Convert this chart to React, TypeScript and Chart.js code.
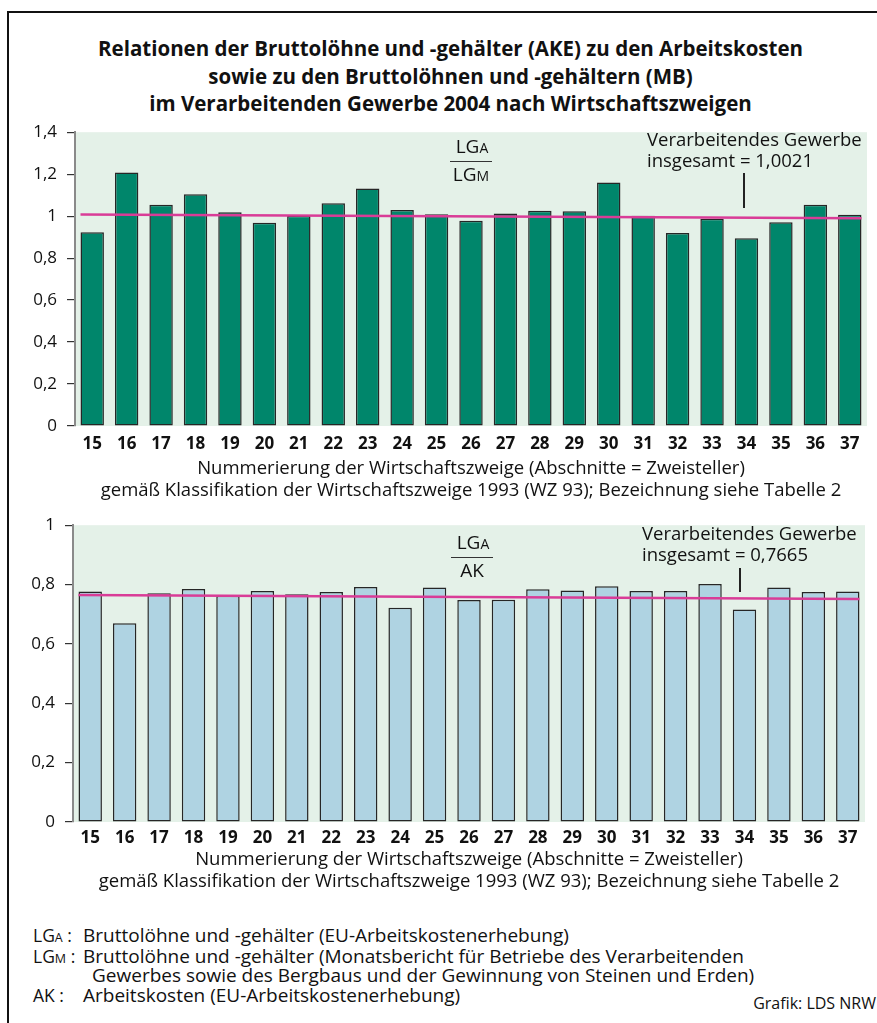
import React, { useEffect, useRef } from 'react';
import { Chart, registerables } from 'chart.js';

Chart.register(...registerables);

const categories = ['15', '16', '17', '18', '19', '20', '21', '22', '23', '24', '25', '26', '27', '28', '29', '30', '31', '32', '33', '34', '35', '36', '37'];
const ratioLgaLgm = [0.923, 1.208, 1.054, 1.104, 1.018, 0.968, 1.002, 1.062, 1.132, 1.029, 1.009, 0.978, 1.013, 1.026, 1.023, 1.16, 1.002, 0.92, 0.987, 0.895, 0.971, 1.054, 1.007];
const ratioLgaAk = [0.777, 0.67, 0.771, 0.785, 0.762, 0.778, 0.767, 0.775, 0.792, 0.722, 0.79, 0.748, 0.749, 0.784, 0.78, 0.794, 0.778, 0.778, 0.802, 0.716, 0.79, 0.775, 0.777];
const avgLineTop = [1.008, 0.99];
const avgLineBottom = [0.765, 0.751];
const totalTop = '1,0021';
const totalBottom = '0,7665';
const xTitle = [
  'Nummerierung der Wirtschaftszweige (Abschnitte = Zweisteller)',
  'gemäß Klassifikation der Wirtschaftszweige 1993 (WZ 93); Bezeichnung siehe Tabelle 2',
];
const titleLines = [
  'Relationen der Bruttolöhne und -gehälter (AKE) zu den Arbeitskosten',
  'sowie zu den Bruttolöhnen und -gehältern (MB)',
  'im Verarbeitenden Gewerbe 2004 nach Wirtschaftszweigen',
];

const FONT = "'Open Sans', 'Noto Sans', sans-serif";

const bgPlugin = {
  id: 'plotBg',
  beforeDraw(chart: any) {
    const { ctx, chartArea: a } = chart;
    ctx.save();
    ctx.fillStyle = '#e4f1e8';
    ctx.fillRect(a.left, a.top, a.right - a.left, a.bottom - a.top);
    ctx.restore();
  },
};

const avgPlugin = {
  id: 'avgLine',
  afterDatasetsDraw(chart: any, _args: any, opts: any) {
    const vals = opts.values;
    if (!vals) return;
    const meta = chart.getDatasetMeta(0);
    const first: any = meta.data[0];
    const last: any = meta.data[meta.data.length - 1];
    const y = chart.scales.y;
    const ctx = chart.ctx;
    ctx.save();
    ctx.strokeStyle = '#d93c97';
    ctx.lineWidth = 2.5;
    ctx.beginPath();
    ctx.moveTo(first.x - first.width / 2, y.getPixelForValue(vals[0]));
    ctx.lineTo(last.x + last.width / 2, y.getPixelForValue(vals[1]));
    ctx.stroke();
    ctx.restore();
  },
};

type BoxProps = {
  top: number;
  height: number;
  values: number[];
  color: string;
  yMax: number;
  avg: number[];
  padTop: number;
  padRight: number;
  yWidth: number;
  xHeight: number;
  tickPad: number;
};

function BarChart(p: BoxProps) {
  const ref = useRef<HTMLCanvasElement | null>(null);
  useEffect(() => {
    if (!ref.current) return;
    const chart = new Chart(ref.current, {
      type: 'bar',
      data: {
        labels: categories,
        datasets: [
          {
            data: p.values,
            backgroundColor: p.color,
            borderColor: '#262626',
            borderWidth: 1.5,
            borderSkipped: false,
            barPercentage: 0.68,
            categoryPercentage: 1,
          },
        ],
      },
      options: {
        responsive: false,
        maintainAspectRatio: false,
        animation: false,
        devicePixelRatio: 1,
        layout: { padding: { top: p.padTop, right: p.padRight, left: 0, bottom: 0 } },
        plugins: {
          legend: { display: false },
          tooltip: { enabled: false },
          title: { display: false },
          avgLine: { values: p.avg },
        } as any,
        scales: {
          x: {
            grid: { display: false, drawTicks: false },
            border: { display: false },
            ticks: {
              color: '#111',
              font: { family: FONT, size: 17, weight: 'bold' },
              padding: p.tickPad,
              maxRotation: 0,
              autoSkip: false,
            },
            title: {
              display: true,
              text: xTitle,
              color: '#111',
              font: { family: FONT, size: 18.5, lineHeight: '22px' },
              padding: { top: 0, bottom: 0 },
            },
            afterFit: (s: any) => {
              s.height = p.xHeight;
            },
          },
          y: {
            min: 0,
            max: p.yMax,
            ticks: {
              stepSize: 0.2,
              color: '#111',
              padding: 10,
              font: { family: FONT, size: 17 },
              callback: (v: any) => {
                const n = Math.round(Number(v) * 10) / 10;
                return String(n).replace('.', ',');
              },
            },
            grid: {
              display: true,
              drawOnChartArea: false,
              drawTicks: true,
              tickLength: 8,
              color: '#333',
              lineWidth: 1.2,
            },
            border: { display: true, color: '#8a8a8a', width: 2 },
            afterFit: (s: any) => {
              s.width = p.yWidth;
            },
          },
        },
      },
      plugins: [bgPlugin, avgPlugin],
    });
    return () => chart.destroy();
  }, []);
  return (
    <canvas
      ref={ref}
      width={877}
      height={p.height}
      style={{ position: 'absolute', left: 0, top: p.top, width: 877, height: p.height }}
    />
  );
}

const txt: React.CSSProperties = {
  position: 'absolute',
  fontFamily: FONT,
  fontSize: 18.5,
  color: '#111',
  whiteSpace: 'nowrap',
  lineHeight: '22px',
};

function Sub({ t, size = 13.5 }: { t: string; size?: number }) {
  return <span style={{ fontSize: size }}>{t}</span>;
}

function Fraction({ left, top, bottomText }: { left: number; top: number; bottomText: React.ReactNode }) {
  return (
    <div style={{ position: 'absolute', left, top, width: 42, textAlign: 'center', fontFamily: FONT, fontSize: 19, color: '#111', lineHeight: '22px' }}>
      <div style={{ paddingLeft: 2 }}>
        LG<Sub t="A" size={14} />
      </div>
      <div style={{ borderTop: '1.5px solid #333', marginTop: 2, paddingTop: 1 }}>{bottomText}</div>
    </div>
  );
}

const leg: React.CSSProperties = { ...txt, fontSize: 19 };
const key: React.CSSProperties = { ...txt, fontSize: 17.5 };

export default function App() {
  return (
    <div style={{ position: 'absolute', left: 0, top: 0, width: 877, height: 1023, background: '#fff', overflow: 'hidden' }}>
      <div
        style={{
          position: 'absolute',
          left: 7,
          top: 11,
          width: 880,
          height: 1030,
          borderTop: '2.5px solid #111',
          borderLeft: '2.5px solid #111',
        }}
      />
      <div
        style={{
          position: 'absolute',
          left: 12,
          top: 35,
          width: 877,
          textAlign: 'center',
          fontFamily: FONT,
          fontWeight: 'bold',
          fontSize: 20.5,
          lineHeight: '27.5px',
          color: '#111',
        }}
      >
        {titleLines.map((l) => (
          <div key={l}>{l}</div>
        ))}
      </div>

      <BarChart top={112} height={390} values={ratioLgaLgm} color="#00866b" yMax={1.4} avg={avgLineTop} padTop={15} padRight={10} yWidth={75} xHeight={76} tickPad={8} />
      <BarChart top={505} height={388} values={ratioLgaAk} color="#afd3e2" yMax={1} avg={avgLineBottom} padTop={18} padRight={12} yWidth={73} xHeight={71} tickPad={6} />

      {/* top annotations */}
      <Fraction left={450} top={135} bottomText={<span>LG<Sub t="M" size={14} /></span>} />
      <div style={{ ...txt, left: 647, top: 128 }}>Verarbeitendes Gewerbe</div>
      <div style={{ ...txt, left: 647, top: 149 }}>insgesamt = {totalTop}</div>
      <div style={{ position: 'absolute', left: 743, top: 173, width: 1.5, height: 35, background: '#222' }} />

      {/* bottom annotations */}
      <Fraction left={451} top={531} bottomText={<span>AK</span>} />
      <div style={{ ...txt, left: 642, top: 522 }}>Verarbeitendes Gewerbe</div>
      <div style={{ ...txt, left: 642, top: 543 }}>insgesamt = {totalBottom}</div>
      <div style={{ position: 'absolute', left: 739, top: 568, width: 1.5, height: 24, background: '#222' }} />

      {/* legend */}
      <div style={{ ...key, left: 33, top: 924 }}>
        LG<Sub t="A" size={12.5} /> :
      </div>
      <div style={{ ...leg, left: 83, top: 924 }}>Bruttolöhne und -gehälter (EU-Arbeitskostenerhebung)</div>
      <div style={{ ...key, left: 33, top: 945 }}>
        LG<Sub t="M" size={12.5} /> :
      </div>
      <div style={{ ...leg, left: 83, top: 945 }}>Bruttolöhne und -gehälter (Monatsbericht für Betriebe des Verarbeitenden</div>
      <div style={{ ...leg, left: 92, top: 964 }}>Gewerbes sowie des Bergbaus und der Gewinnung von Steinen und Erden)</div>
      <div style={{ ...key, left: 33, top: 984 }}>AK :</div>
      <div style={{ ...leg, left: 83, top: 984 }}>Arbeitskosten (EU-Arbeitskostenerhebung)</div>
      <div style={{ ...txt, right: 1, top: 992, fontSize: 16 }}>Grafik: LDS NRW</div>
    </div>
  );
}
